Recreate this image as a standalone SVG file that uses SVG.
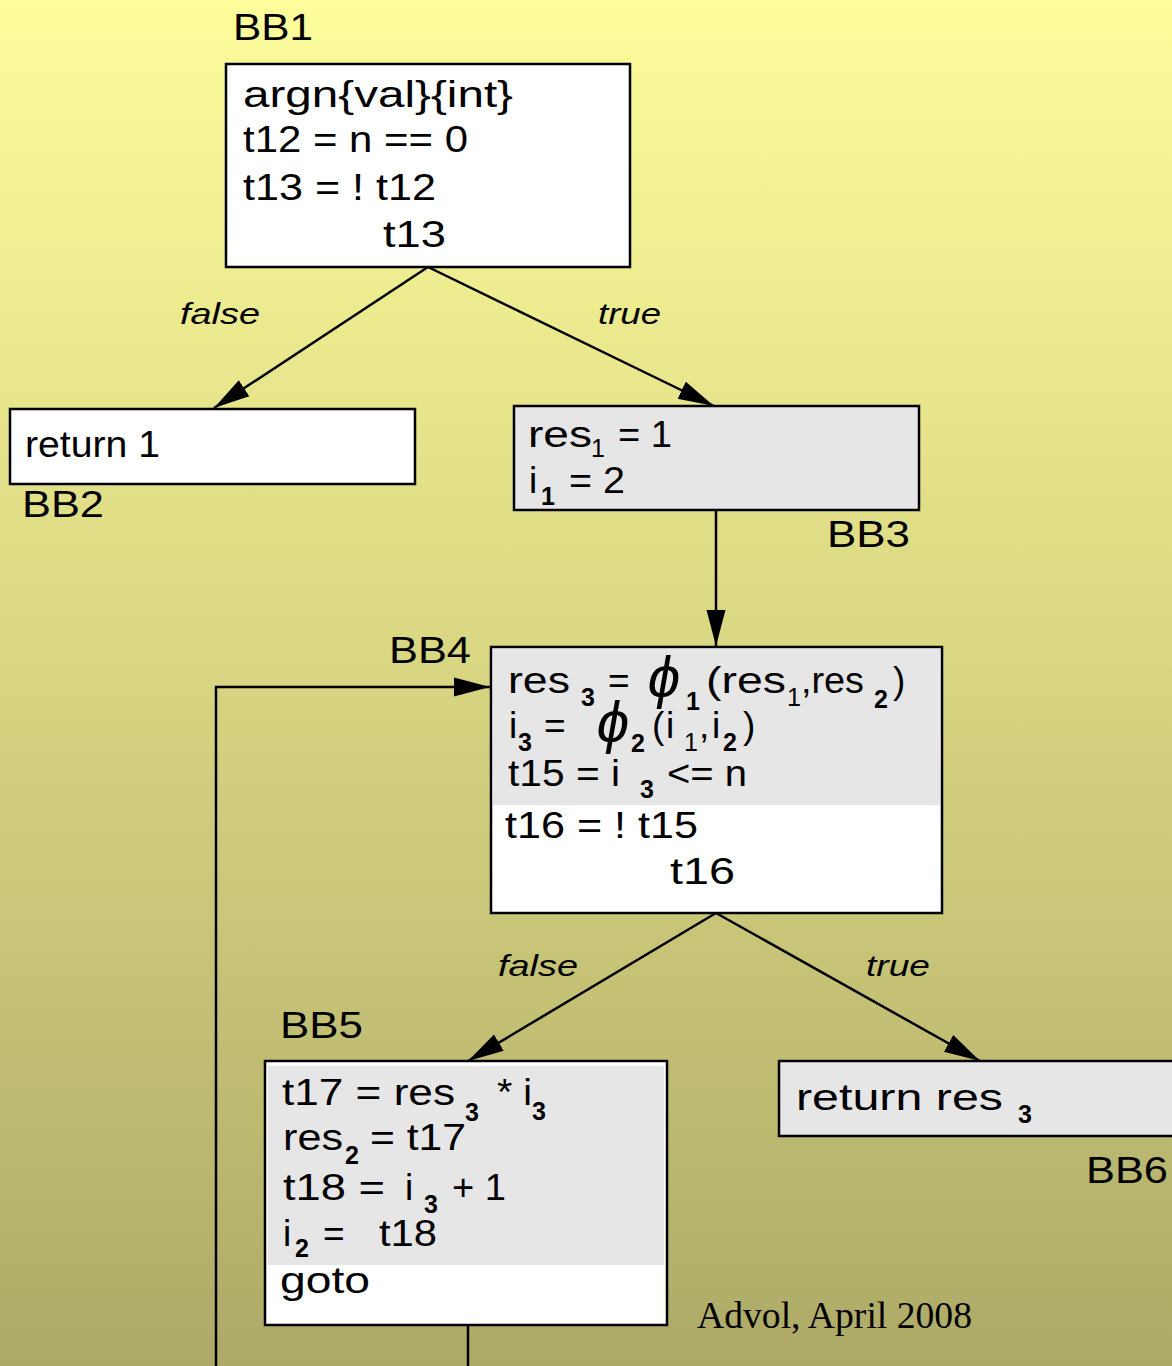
<svg xmlns="http://www.w3.org/2000/svg" width="1172" height="1366" viewBox="0 0 1172 1366">
<defs>
<linearGradient id="bg" x1="0" y1="0" x2="0" y2="1">
<stop offset="0" stop-color="#fdfd9c"/>
<stop offset="0.5" stop-color="#d7d581"/>
<stop offset="1" stop-color="#adaa68"/>
</linearGradient>
<marker id="arr" markerUnits="userSpaceOnUse" markerWidth="38" markerHeight="22" refX="36" refY="11" orient="auto">
<path d="M0,1.5 L36,11 L0,20.5 Z" fill="#000"/>
</marker>
<style>
.box{stroke:#000;stroke-width:2.5}
.w{fill:#fff}
.g{fill:#e6e6e6}
.t{font-family:"Liberation Sans",Arial,sans-serif;font-size:37px;fill:#000}
.lbl{font-family:"Liberation Sans",Arial,sans-serif;font-size:36px;fill:#000}
.s{font-family:"Liberation Sans",Arial,sans-serif;font-size:25px;font-weight:bold;fill:#000}
.sn{font-family:"Liberation Sans",Arial,sans-serif;font-size:25px;fill:#000}
.it{font-family:"Liberation Sans",Arial,sans-serif;font-size:29px;font-style:italic;fill:#000}
.phi{font-family:"Liberation Sans","DejaVu Sans",sans-serif;font-size:58px;fill:#000}
.edge{fill:none;stroke:#000;stroke-width:2.5}
</style>
</defs>
<rect x="0" y="0" width="1172" height="1366" fill="url(#bg)"/>

<g id="connectors">
<line class="edge" x1="428" y1="267" x2="214" y2="408" marker-end="url(#arr)"/>
<line class="edge" x1="428" y1="267" x2="714" y2="406" marker-end="url(#arr)"/>
<line class="edge" x1="716" y1="510" x2="716" y2="646" marker-end="url(#arr)"/>
<line class="edge" x1="716" y1="913" x2="468" y2="1061" marker-end="url(#arr)"/>
<line class="edge" x1="716" y1="913" x2="980" y2="1061" marker-end="url(#arr)"/>
<polyline class="edge" points="468,1325 468,1368 216,1368 216,687 490,687" marker-end="url(#arr)"/>
<text class="it" x="180" y="324" textLength="80" lengthAdjust="spacingAndGlyphs">false</text>
<text class="it" x="598" y="324" textLength="63" lengthAdjust="spacingAndGlyphs">true</text>
<text class="it" x="498" y="976" textLength="80" lengthAdjust="spacingAndGlyphs">false</text>
<text class="it" x="866" y="976" textLength="64" lengthAdjust="spacingAndGlyphs">true</text>
</g>

<g id="BB1">
<text class="lbl" x="233" y="40" textLength="80" lengthAdjust="spacingAndGlyphs">BB1</text>
<rect class="box w" x="226" y="64" width="404" height="203"/>
<text class="t" x="243" y="107" textLength="270" lengthAdjust="spacingAndGlyphs">argn{val}{int}</text>
<text class="t" x="243" y="152" textLength="225" lengthAdjust="spacingAndGlyphs">t12 = n == 0</text>
<text class="t" x="243" y="200" textLength="193" lengthAdjust="spacingAndGlyphs">t13 = ! t12</text>
<text class="t" x="383" y="247" textLength="63" lengthAdjust="spacingAndGlyphs">t13</text>
</g>

<g id="BB2">
<rect class="box w" x="10" y="409" width="405" height="75"/>
<text class="t" x="25" y="457" textLength="135" lengthAdjust="spacingAndGlyphs">return 1</text>
<text class="lbl" x="22" y="517" textLength="82" lengthAdjust="spacingAndGlyphs">BB2</text>
</g>

<g id="BB3">
<rect class="box g" x="514" y="406" width="405" height="104"/>
<text class="t" x="528" y="447" textLength="64" lengthAdjust="spacingAndGlyphs">res</text>
<text class="sn" x="591" y="457">1</text>
<text class="t" x="618" y="447" textLength="54" lengthAdjust="spacingAndGlyphs">= 1</text>
<text class="t" x="529" y="493">i</text>
<text class="s" x="541" y="505">1</text>
<text class="t" x="569" y="493" textLength="56" lengthAdjust="spacingAndGlyphs">= 2</text>
<text class="lbl" x="827" y="547" textLength="83" lengthAdjust="spacingAndGlyphs">BB3</text>
</g>

<g id="BB4">
<text class="lbl" x="389" y="663" textLength="82" lengthAdjust="spacingAndGlyphs">BB4</text>
<rect class="box w" x="491" y="647" width="451" height="266"/>
<rect class="g" x="493" y="649" width="447" height="156"/>
<text class="t" x="508" y="693" textLength="62" lengthAdjust="spacingAndGlyphs">res</text>
<text class="s" x="581" y="706">3</text>
<text class="t" x="608" y="693">=</text>
<text class="phi" transform="translate(645,697) skewX(-10)">ϕ</text>
<text class="s" x="686" y="710">1</text>
<text class="t" x="706" y="693" textLength="80" lengthAdjust="spacingAndGlyphs">(res</text>
<text class="sn" x="787" y="706">1</text>
<text class="t" x="801" y="693" textLength="63" lengthAdjust="spacingAndGlyphs">,res</text>
<text class="s" x="874" y="708">2</text>
<text class="t" x="893" y="693">)</text>
<text class="t" x="509" y="738">i</text>
<text class="s" x="518" y="751">3</text>
<text class="t" x="544" y="738">=</text>
<text class="phi" transform="translate(594,742) skewX(-10)">ϕ</text>
<text class="s" x="631" y="752">2</text>
<text class="t" x="652" y="738">(</text>
<text class="t" x="666" y="738">i</text>
<text class="sn" x="684" y="751">1</text>
<text class="t" x="699" y="738">,</text>
<text class="t" x="712" y="738">i</text>
<text class="s" x="723" y="751">2</text>
<text class="t" x="743" y="738">)</text>
<text class="t" x="508" y="786" textLength="112" lengthAdjust="spacingAndGlyphs">t15 = i</text>
<text class="s" x="640" y="798">3</text>
<text class="t" x="667" y="786" textLength="80" lengthAdjust="spacingAndGlyphs">&lt;= n</text>
<text class="t" x="505" y="838" textLength="193" lengthAdjust="spacingAndGlyphs">t16 = ! t15</text>
<text class="t" x="670" y="884" textLength="65" lengthAdjust="spacingAndGlyphs">t16</text>
</g>

<g id="BB5">
<text class="lbl" x="280" y="1038" textLength="83" lengthAdjust="spacingAndGlyphs">BB5</text>
<rect class="box w" x="265" y="1061" width="402" height="264"/>
<rect class="g" x="268" y="1066" width="396" height="199"/>
<text class="t" x="282" y="1105" textLength="173" lengthAdjust="spacingAndGlyphs">t17 = res</text>
<text class="s" x="465" y="1121">3</text>
<text class="t" x="497" y="1105" textLength="35" lengthAdjust="spacingAndGlyphs">* i</text>
<text class="s" x="532" y="1120">3</text>
<text class="t" x="283" y="1150" textLength="60" lengthAdjust="spacingAndGlyphs">res</text>
<text class="s" x="345" y="1164">2</text>
<text class="t" x="370" y="1150" textLength="96" lengthAdjust="spacingAndGlyphs">= t17</text>
<text class="t" x="283" y="1200" textLength="102" lengthAdjust="spacingAndGlyphs">t18 =</text>
<text class="t" x="405" y="1200">i</text>
<text class="s" x="424" y="1213">3</text>
<text class="t" x="452" y="1200" textLength="54" lengthAdjust="spacingAndGlyphs">+ 1</text>
<text class="t" x="283" y="1246">i</text>
<text class="s" x="295" y="1257">2</text>
<text class="t" x="323" y="1246">=</text>
<text class="t" x="379" y="1246" textLength="58" lengthAdjust="spacingAndGlyphs">t18</text>
<text class="t" x="280" y="1293" textLength="90" lengthAdjust="spacingAndGlyphs">goto</text>
</g>

<g id="BB6">
<rect class="box g" x="779" y="1061" width="400" height="75"/>
<text class="t" x="796" y="1110" textLength="207" lengthAdjust="spacingAndGlyphs">return res</text>
<text class="s" x="1018" y="1123">3</text>
<text class="lbl" x="1086" y="1183" textLength="82" lengthAdjust="spacingAndGlyphs">BB6</text>
</g>

<text x="697" y="1328" font-family="Liberation Serif, Times New Roman, serif" font-size="38" textLength="275" lengthAdjust="spacingAndGlyphs" fill="#000">Advol, April 2008</text>
</svg>
